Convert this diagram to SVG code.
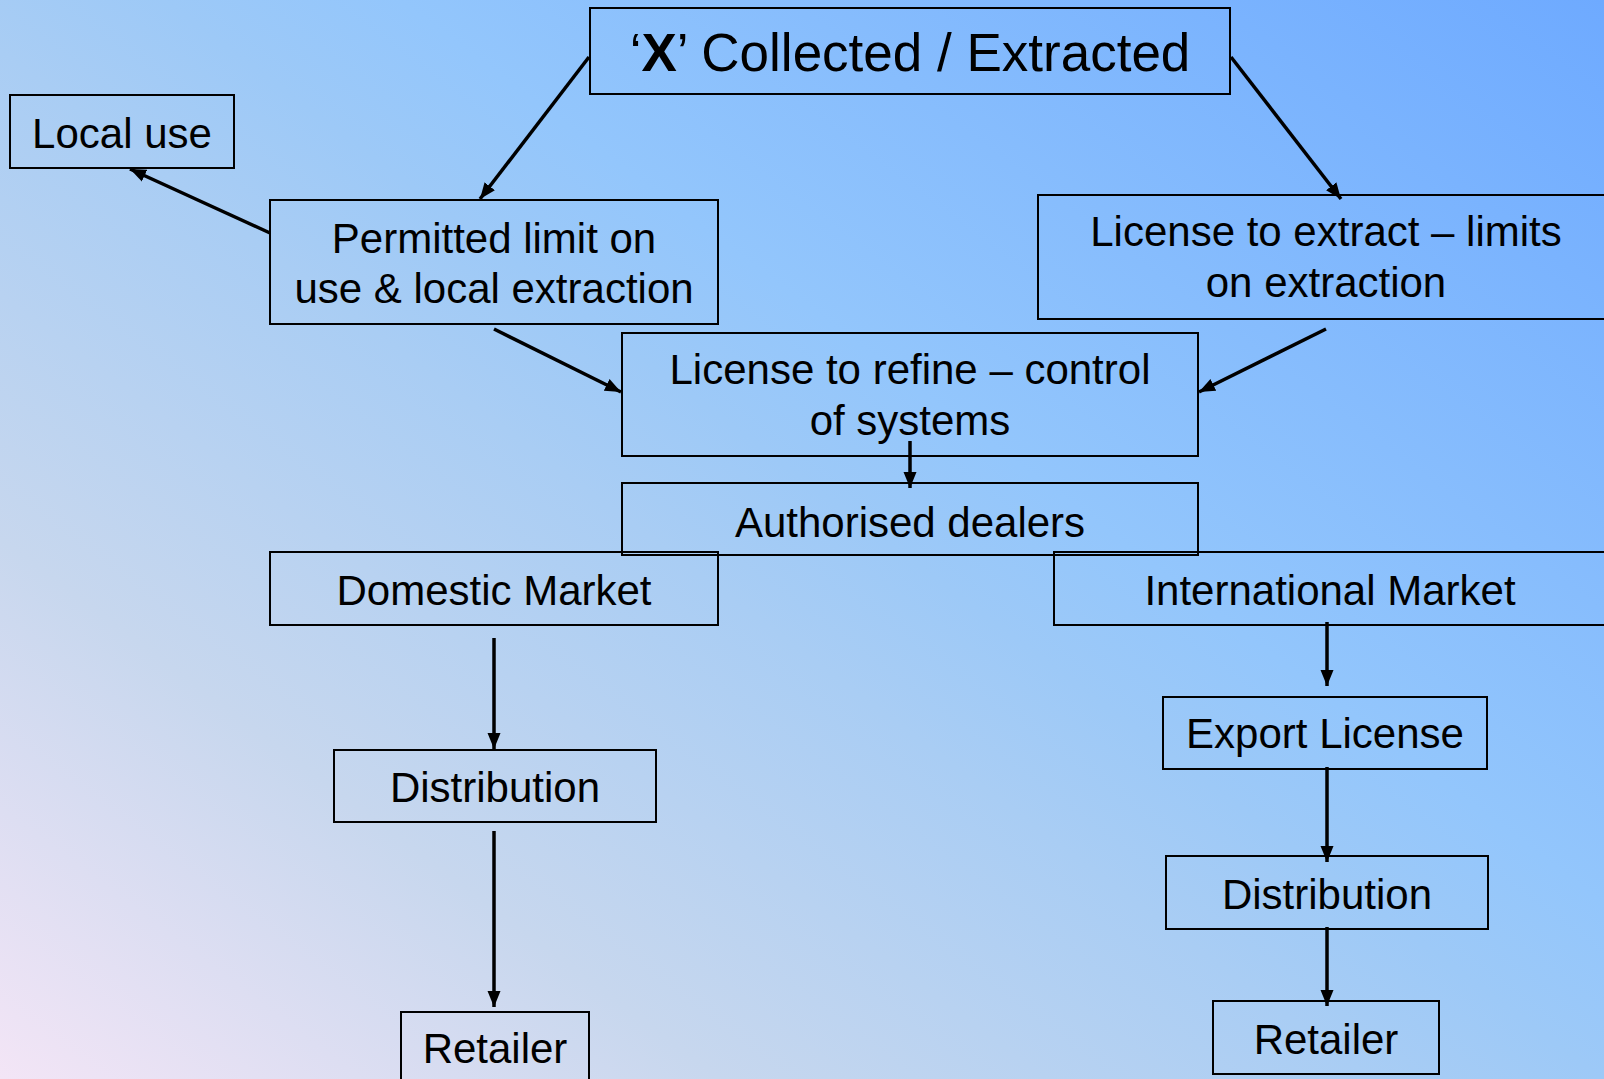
<svg xmlns="http://www.w3.org/2000/svg" width="1604" height="1079" viewBox="0 0 1604 1079">
  <defs>
    <!-- soft lavender-to-blue background wash -->
    <linearGradient id="bg" gradientUnits="userSpaceOnUse" x1="0" y1="1079" x2="1095" y2="-381">
      <stop offset="0" stop-color="#f3e5f6"/>
      <stop offset="0.237" stop-color="#c7d7ee"/>
      <stop offset="0.451" stop-color="#a9cdf4"/>
      <stop offset="0.527" stop-color="#9dc9f7"/>
      <stop offset="0.604" stop-color="#93c6fc"/>
      <stop offset="1" stop-color="#6eaaff"/>
    </linearGradient>
    <marker id="arrow" markerUnits="userSpaceOnUse" markerWidth="17" markerHeight="14" refX="16" refY="7" orient="auto">
      <path d="M0,0.5 L16,7 L0,13.5 z" fill="#000"/>
    </marker>
    <style>
      .box { fill: none; stroke: #000; stroke-width: 2; }
      .lbl { font-family: "Liberation Sans", Arial, sans-serif; font-size: 42px; fill: #000; text-anchor: middle; }
      .title { font-size: 53px; }
      .conn { stroke: #000; stroke-width: 3.5; fill: none; marker-end: url(#arrow); }
    </style>
  </defs>

  <rect x="0" y="0" width="1604" height="1079" fill="url(#bg)"/>

  <g id="connectors">
    <line class="conn" x1="589" y1="57" x2="480" y2="199"/>
    <line class="conn" x1="1231" y1="57" x2="1341" y2="199"/>
    <line class="conn" x1="270" y1="233" x2="130" y2="169"/>
    <line class="conn" x1="494" y1="329" x2="621" y2="392"/>
    <line class="conn" x1="1326" y1="329" x2="1199" y2="392"/>
    <line class="conn" x1="910" y1="441" x2="910" y2="488"/>
    <line class="conn" x1="494" y1="638" x2="494" y2="749"/>
    <line class="conn" x1="494" y1="831" x2="494" y2="1007"/>
    <line class="conn" x1="1327" y1="622" x2="1327" y2="686"/>
    <line class="conn" x1="1327" y1="767" x2="1327" y2="862"/>
    <line class="conn" x1="1327" y1="927" x2="1327" y2="1006"/>
  </g>

  <g id="collected">
    <rect class="box" x="590" y="8" width="640" height="86"/>
    <text class="lbl title" x="910" y="71">‘<tspan font-weight="bold">X</tspan>’ Collected / Extracted</text>
  </g>

  <g id="local-use">
    <rect class="box" x="10" y="95" width="224" height="73"/>
    <text class="lbl" x="122" y="148">Local use</text>
  </g>

  <g id="permitted-limit">
    <rect class="box" x="270" y="200" width="448" height="124"/>
    <text class="lbl" x="494" y="253">Permitted limit on</text>
    <text class="lbl" x="494" y="303">use &amp; local extraction</text>
  </g>

  <g id="license-extract">
    <rect class="box" x="1038" y="195" width="580" height="124"/>
    <text class="lbl" x="1326" y="246">License to extract – limits</text>
    <text class="lbl" x="1326" y="297">on extraction</text>
  </g>

  <g id="license-refine">
    <rect class="box" x="622" y="333" width="576" height="123"/>
    <text class="lbl" x="910" y="384">License to refine – control</text>
    <text class="lbl" x="910" y="435">of systems</text>
  </g>

  <g id="dealers">
    <rect class="box" x="622" y="483" width="576" height="72"/>
    <text class="lbl" x="910" y="537">Authorised dealers</text>
  </g>

  <g id="domestic-market">
    <rect class="box" x="270" y="552" width="448" height="73"/>
    <text class="lbl" x="494" y="605">Domestic Market</text>
  </g>

  <g id="international-market">
    <rect class="box" x="1054" y="552" width="560" height="73"/>
    <text class="lbl" x="1330" y="605">International Market</text>
  </g>

  <g id="distribution-domestic">
    <rect class="box" x="334" y="750" width="322" height="72"/>
    <text class="lbl" x="495" y="802">Distribution</text>
  </g>

  <g id="retailer-domestic">
    <rect class="box" x="401" y="1012" width="188" height="80"/>
    <text class="lbl" x="495" y="1063">Retailer</text>
  </g>

  <g id="export-license">
    <rect class="box" x="1163" y="697" width="324" height="72"/>
    <text class="lbl" x="1325" y="748">Export License</text>
  </g>

  <g id="distribution-international">
    <rect class="box" x="1166" y="856" width="322" height="73"/>
    <text class="lbl" x="1327" y="909">Distribution</text>
  </g>

  <g id="retailer-international">
    <rect class="box" x="1213" y="1001" width="226" height="73"/>
    <text class="lbl" x="1326" y="1054">Retailer</text>
  </g>
</svg>
